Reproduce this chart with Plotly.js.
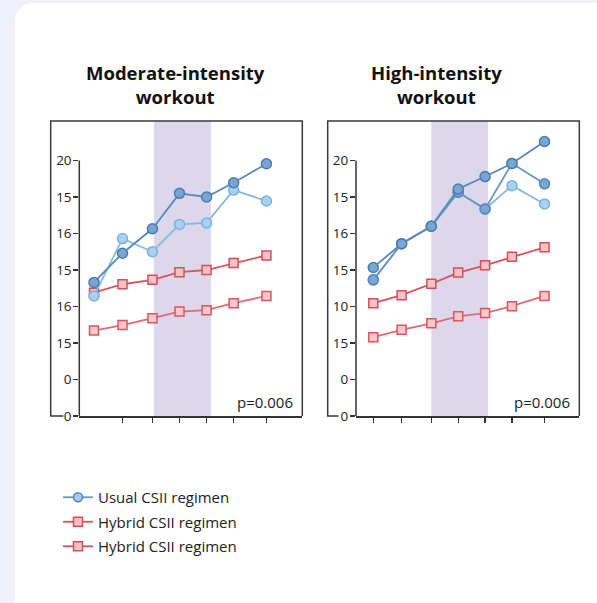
<!DOCTYPE html>
<html>
<head>
<meta charset="utf-8">
<script src="https://cdn.plot.ly/plotly-3.0.1.min.js"></script>
<style>
  html, body { margin: 0; padding: 0; background: #eff0fa; width: 597px; height: 603px; overflow: hidden; }
  #card { position: absolute; left: 15px; top: 3px; width: 640px; height: 700px; background: #ffffff; border-radius: 18px; }
  #chart { position: absolute; left: 0; top: 0; width: 597px; height: 603px; }
</style>
</head>
<body>
<div id="card"></div>
<div id="chart"></div>
<script>
// ---- data ----
const timePoints = [0, 1, 2.05, 3, 3.95, 4.9, 6.05];
const tickPositions = [0, 1, 2, 3, 4, 5, 6, 7];
const tickLabelsModerate = ["0", "0", "15", "16", "15", "16", "15", "20"];
const tickLabelsHigh = ["0", "0", "15", "10", "15", "16", "15", "20"];
const exerciseStart = 2.1;
const exerciseEnd = 4.1;

const modUsualA = [3.66, 4.46, 5.13, 6.10, 6.00, 6.39, 6.91];
const modUsualB = [3.29, 4.86, 4.50, 5.25, 5.29, 6.19, 5.89];
const modHybridA = [3.38, 3.61, 3.73, 3.94, 4.00, 4.19, 4.40];
const modHybridB = [2.34, 2.49, 2.68, 2.86, 2.90, 3.09, 3.29];

const highUsualA = [4.07, 4.72, 5.20, 6.22, 6.56, 6.92, 7.52];
const highUsualB = [3.73, 4.72, 5.20, 6.13, 5.67, 6.31, 5.81];
const highUsualC = [3.73, 4.72, 5.20, 6.13, 5.67, 6.92, 6.36];
const highHybridA = [3.09, 3.31, 3.62, 3.93, 4.13, 4.36, 4.62];
const highHybridB = [2.16, 2.36, 2.54, 2.73, 2.82, 3.01, 3.29];

const pLabel = "p=0.006";
const seriesNames = ["Usual CSII regimen", "Hybrid CSII regimen", "Hybrid CSII regimen"];

// ---- styles ----
const W = 597, H = 603;
const px = v => v / W;
const py = v => 1 - v / H;
const FONT = "Open Sans, Noto Sans, sans-serif";

const styleDark = {line: {color: '#5a88b8', width: 1.8}, marker: {symbol: 'circle', size: 10, color: '#79a5d2', line: {color: '#4b7bae', width: 1.5}}};
const styleLight = {line: {color: '#88b8de', width: 1.8}, marker: {symbol: 'circle', size: 10, color: '#a9d0ef', line: {color: '#7db2dd', width: 1.5}}};
const styleMid = {line: {color: '#6a96c4', width: 1.8}, marker: {symbol: 'circle', size: 10, color: '#7aa6d4', line: {color: '#5886b8', width: 1.5}}};
const styleRedA = {line: {color: '#d9545f', width: 1.8}, marker: {symbol: 'square', size: 9, color: '#f5c2c5', line: {color: '#d44f5c', width: 1.5}}};
const styleRedB = {line: {color: '#e06a75', width: 1.8}, marker: {symbol: 'square', size: 9, color: '#f7c9cc', line: {color: '#d9565f', width: 1.5}}};

function tr(y, style, xa, ya, name, legend, group) {
  return Object.assign({
    x: timePoints, y: y, xaxis: xa, yaxis: ya, mode: 'lines+markers',
    name: name, showlegend: legend, legendgroup: group, hoverinfo: 'skip'
  }, JSON.parse(JSON.stringify(style)));
}

const traces = [
  tr(modHybridB, styleRedB, 'x', 'y', seriesNames[2], false, 'g3'),
  tr(modHybridA, styleRedA, 'x', 'y', seriesNames[1], false, 'g2'),
  tr(modUsualB, styleLight, 'x', 'y', seriesNames[0], false, 'g1'),
  tr(modUsualA, styleDark, 'x', 'y', seriesNames[0], false, 'g1'),
  tr(highHybridB, styleRedB, 'x2', 'y2', seriesNames[2], false, 'g3'),
  tr(highHybridA, styleRedA, 'x2', 'y2', seriesNames[1], false, 'g2'),
  tr(highUsualB, styleLight, 'x2', 'y2', seriesNames[0], false, 'g1'),
  tr(highUsualC, styleMid, 'x2', 'y2', seriesNames[0], false, 'g1'),
  tr(highUsualA, styleDark, 'x2', 'y2', seriesNames[0], false, 'g1'),
];
// legend entries
const empty = timePoints.map(() => null);
const legBlue = tr(empty, styleMid, 'x', 'y', seriesNames[0], true, 'g1');
legBlue.marker.color = '#a7c9ea'; legBlue.marker.size = 9;
const legRedA = tr(empty, styleRedA, 'x', 'y', seriesNames[1], true, 'g2');
const legRedB = tr(empty, styleRedA, 'x', 'y', seriesNames[2], true, 'g3');
traces.push(legBlue, legRedA, legRedB);

// ---- layout geometry (pixels) ----
const boxTop = 121, boxBottom = 416;
const leftBox = {l: 50.7, r: 302.3, axis: 79.3, gap: 63.3};
const rightBox = {l: 327.7, r: 579.3, axis: 356, gap: 338.5};

function xaxisDef(domain, range, ticks) {
  return {
    domain: domain, range: range, showgrid: false, zeroline: false,
    showline: true, linecolor: '#333333', linewidth: 1.5,
    ticks: 'outside', ticklen: 5, tickwidth: 1.3, tickcolor: '#333333',
    tickmode: 'array', tickvals: ticks, showticklabels: false, fixedrange: true
  };
}
function yaxisDef(anchor, labels) {
  return {
    domain: [py(boxBottom), py(boxTop)], range: [0, (boxBottom - boxTop) / 36.5],
    anchor: anchor, showgrid: false, zeroline: false, showline: false,
    ticks: 'outside', ticklen: 5, tickwidth: 1.3, tickcolor: '#333333',
    tickmode: 'array', tickvals: tickPositions, ticktext: labels,
    ticklabelstandoff: -1,
    tickfont: {family: FONT, size: 13.5, color: '#222222'}, fixedrange: true
  };
}

function boxShapes(b) {
  const line = {color: '#3a3a3a', width: 1.5};
  return [
    {type: 'path', xref: 'paper', yref: 'paper',
     path: `M ${px(b.gap)} ${py(boxBottom)} L ${px(b.l)} ${py(boxBottom)} L ${px(b.l)} ${py(boxTop)} L ${px(b.r)} ${py(boxTop)} L ${px(b.r)} ${py(boxBottom)}`,
     line: line},
  ];
}

const shapes = [
  {type: 'rect', xref: 'x', yref: 'y domain', x0: exerciseStart, x1: exerciseEnd, y0: 0, y1: 1, fillcolor: '#dcd7eb', line: {width: 0}, layer: 'below'},
  {type: 'rect', xref: 'x2', yref: 'y2 domain', x0: exerciseStart - 0.05, x1: exerciseEnd - 0.05, y0: 0, y1: 1, fillcolor: '#dcd7eb', line: {width: 0}, layer: 'below'},
  {type: 'line', xref: 'x domain', yref: 'y', x0: 0, x1: 0, y0: 0, y1: 7, line: {color: '#333333', width: 1.5}},
  {type: 'line', xref: 'x2 domain', yref: 'y2', x0: 0, x1: 0, y0: 0, y1: 7, line: {color: '#333333', width: 1.5}},
  ...boxShapes(leftBox), ...boxShapes(rightBox)
];

const annotations = [
  {text: '<b>Moderate-intensity</b><br><b>workout</b>', xref: 'paper', yref: 'paper', x: px(175.5), y: py(84), xanchor: 'center', yanchor: 'middle', showarrow: false, font: {family: FONT, size: 18.5, color: '#111111'}},
  {text: '<b>High-intensity</b><br><b>workout</b>', xref: 'paper', yref: 'paper', x: px(436), y: py(84), xanchor: 'center', yanchor: 'middle', showarrow: false, font: {family: FONT, size: 18.5, color: '#111111'}},
  {text: pLabel, xref: 'paper', yref: 'paper', x: px(295), y: py(402), xanchor: 'right', yanchor: 'middle', showarrow: false, font: {family: FONT, size: 15, color: '#222222'}},
  {text: pLabel, xref: 'paper', yref: 'paper', x: px(572), y: py(402), xanchor: 'right', yanchor: 'middle', showarrow: false, font: {family: FONT, size: 15, color: '#222222'}},
];

const leftUnit = 28.5, rightUnit = 28.3;
const layout = {
  width: W, height: H, margin: {l: 0, r: 0, t: 0, b: 0},
  paper_bgcolor: 'rgba(0,0,0,0)', plot_bgcolor: 'rgba(0,0,0,0)',
  font: {family: FONT, color: '#222222'},
  xaxis: xaxisDef([px(leftBox.axis), px(leftBox.r)], [(leftBox.axis - 94) / leftUnit, (leftBox.r - 94) / leftUnit], timePoints.slice(1)),
  yaxis: yaxisDef('x', tickLabelsModerate),
  xaxis2: xaxisDef([px(rightBox.axis), px(rightBox.r)], [(rightBox.axis - 373.3) / rightUnit, (rightBox.r - 373.3) / rightUnit], timePoints),
  yaxis2: yaxisDef('x2', tickLabelsHigh),
  shapes: shapes, annotations: annotations,
  showlegend: true,
  legend: {x: px(58), y: py(481), xanchor: 'left', yanchor: 'top', bgcolor: 'rgba(0,0,0,0)',
           font: {family: FONT, size: 15, color: '#222222'}, tracegroupgap: 2, traceorder: 'grouped'}
};

Plotly.newPlot('chart', traces, layout, {displayModeBar: false, staticPlot: true});
</script>
</body>
</html>
